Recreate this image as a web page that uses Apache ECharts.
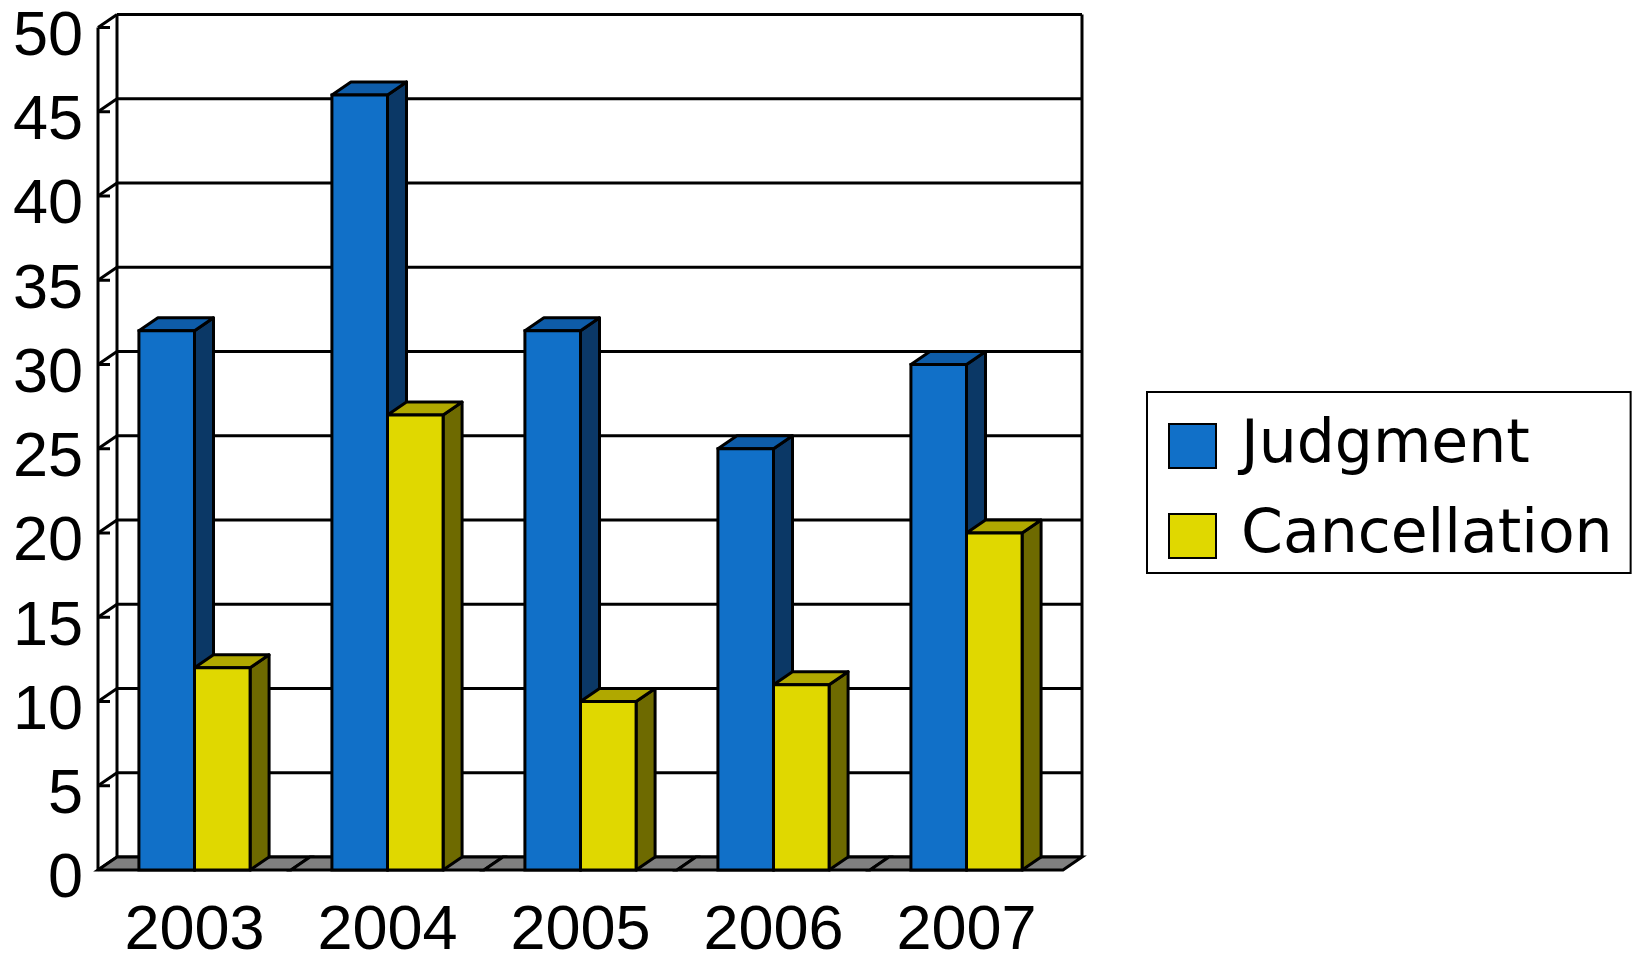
<!DOCTYPE html>
<html>
<head>
<meta charset="utf-8">
<title>Judgment / Cancellation</title>
<script src="https://cdn.jsdelivr.net/npm/echarts@6/dist/echarts.min.js"></script>
<style>
  html, body { margin: 0; padding: 0; background: #ffffff; }
  #chart { width: 1637px; height: 955px; }
</style>
</head>
<body>
<div id="chart"></div>
<script>
  const categories = ['2003', '2004', '2005', '2006', '2007'];
  const judgment = [32, 46, 32, 25, 30];
  const cancellation = [12, 27, 10, 11, 20];
  const yTicks = [0, 5, 10, 15, 20, 25, 30, 35, 40, 45, 50];

  // fake 3d depth offset
  const DX = 19;
  const DY = -13;
  const BAR_FRAC = 0.288;
  const LINE = { stroke: '#000', lineWidth: 3 };
  const FONT = 'Liberation Sans';

  function plotEdges(api) {
    const band = api.size([1, 0])[0];
    const x0 = api.coord([0, 0])[0] - band / 2;
    const x1 = api.coord([categories.length - 1, 0])[0] + band / 2;
    return { band, x0, x1 };
  }

  // back wall grid lines + left wall diagonals
  function renderGrid(params, api) {
    const { x0, x1 } = plotEdges(api);
    const y = api.coord([0, api.value(1)])[1];
    const kids = [
      { type: 'line', shape: { x1: x0 + DX, y1: y + DY, x2: x1 + DX, y2: y + DY }, style: LINE },
      { type: 'line', shape: { x1: x0, y1: y, x2: x0 + DX, y2: y + DY }, style: LINE },
    ];
    if (api.value(1) > 0) {
      kids.push({ type: 'line', shape: { x1: x0, y1: y, x2: x0 + 12, y2: y }, style: LINE });
    }
    return { type: 'group', children: kids };
  }

  // walls outline
  function renderFrame(params, api) {
    const { x0, x1 } = plotEdges(api);
    const yb = api.coord([0, 0])[1];
    const yt = api.coord([0, 50])[1];
    return {
      type: 'group',
      children: [
        { type: 'line', shape: { x1: x0, y1: yt, x2: x0, y2: yb }, style: LINE },
        { type: 'line', shape: { x1: x0 + DX, y1: yt + DY, x2: x0 + DX, y2: yb + DY }, style: LINE },
        { type: 'line', shape: { x1: x1 + DX, y1: yt + DY, x2: x1 + DX, y2: yb + DY }, style: LINE },
      ],
    };
  }

  function renderFloor(params, api) {
    const band = api.size([1, 0])[0];
    const c = api.coord([api.value(0), 0]);
    const xl = c[0] - band / 2;
    const xr = c[0] + band / 2;
    const y = c[1];
    return {
      type: 'polygon',
      shape: { points: [[xl, y], [xr, y], [xr + DX, y + DY], [xl + DX, y + DY]] },
      style: { fill: '#808080', stroke: '#000', lineWidth: 3 },
    };
  }

  function makeBar(side, front, top, right) {
    return function (params, api) {
      const band = api.size([1, 0])[0];
      const w = band * BAR_FRAC;
      const base = api.coord([api.value(0), 0]);
      const yt = api.coord([api.value(0), api.value(1)])[1];
      const y0 = base[1];
      const xl = side < 0 ? base[0] - w : base[0];
      const xr = xl + w;
      return {
        type: 'group',
        children: [
          {
            type: 'polygon',
            shape: { points: [[xr, yt], [xr + DX, yt + DY], [xr + DX, y0 + DY], [xr, y0]] },
            style: { fill: right, stroke: '#000', lineWidth: 3, lineJoin: 'round' },
          },
          {
            type: 'polygon',
            shape: { points: [[xl, yt], [xr, yt], [xr + DX, yt + DY], [xl + DX, yt + DY]] },
            style: { fill: top, stroke: '#000', lineWidth: 3, lineJoin: 'round' },
          },
          {
            type: 'rect',
            shape: { x: xl, y: yt, width: w, height: y0 - yt },
            style: { fill: front, stroke: '#000', lineWidth: 3 },
          },
        ],
      };
    };
  }

  const chart = echarts.init(document.getElementById('chart'));
  chart.setOption({
    animation: false,
    backgroundColor: '#ffffff',
    grid: { left: 98, right: 574, top: 27.5, bottom: 85, containLabel: false, outerBoundsMode: 'none' },
    xAxis: {
      type: 'category',
      data: categories,
      axisLine: { show: false },
      axisTick: { show: false },
      splitLine: { show: false },
      axisLabel: { fontSize: 63, fontFamily: FONT, color: '#000', margin: 30 },
    },
    yAxis: {
      type: 'value',
      min: 0,
      max: 50,
      interval: 5,
      axisLine: { show: false },
      axisTick: { show: false },
      splitLine: { show: false },
      axisLabel: {
        margin: 15,
        formatter: '{v|{value}}',
        rich: {
          v: { fontSize: 63, fontFamily: FONT, color: '#000', padding: [20, 0, 0, 0] },
        },
      },
    },
    legend: {
      data: ['Judgment', 'Cancellation'],
      orient: 'vertical',
      left: 1147,
      top: 392,
      borderColor: '#000',
      borderWidth: 2,
      padding: [24, 18, 7, 21],
      itemWidth: 47,
      itemHeight: 44,
      itemGap: 30,
      icon: 'rect',
      itemStyle: { borderColor: '#000', borderWidth: 2 },
      textStyle: { fontSize: 60, fontFamily: 'DejaVu Sans', color: '#000', lineHeight: 44, padding: [0, 0, 0, 20] },
    },
    series: [
      {
        type: 'custom',
        name: 'grid',
        z: 1,
        renderItem: renderGrid,
        encode: { x: 0, y: 1 },
        data: yTicks.map((v) => [0, v]),
        silent: true,
      },
      {
        type: 'custom',
        name: 'frame',
        z: 1,
        renderItem: renderFrame,
        encode: { x: 0, y: 1 },
        data: [[0, 0]],
        silent: true,
      },
      {
        type: 'custom',
        name: 'floor',
        z: 2,
        renderItem: renderFloor,
        encode: { x: 0, y: 1 },
        data: categories.map((c, i) => [i, 0]),
        silent: true,
      },
      {
        type: 'custom',
        name: 'Judgment',
        z: 3,
        itemStyle: { color: '#1170c8' },
        renderItem: makeBar(-1, '#1170c8', '#0e5ca8', '#0b3866'),
        encode: { x: 0, y: 1 },
        data: judgment.map((v, i) => [i, v]),
      },
      {
        type: 'custom',
        name: 'Cancellation',
        z: 4,
        itemStyle: { color: '#e0d800' },
        renderItem: makeBar(1, '#e0d800', '#b0a800', '#6e6a00'),
        encode: { x: 0, y: 1 },
        data: cancellation.map((v, i) => [i, v]),
      },
    ],
  });
</script>
</body>
</html>
